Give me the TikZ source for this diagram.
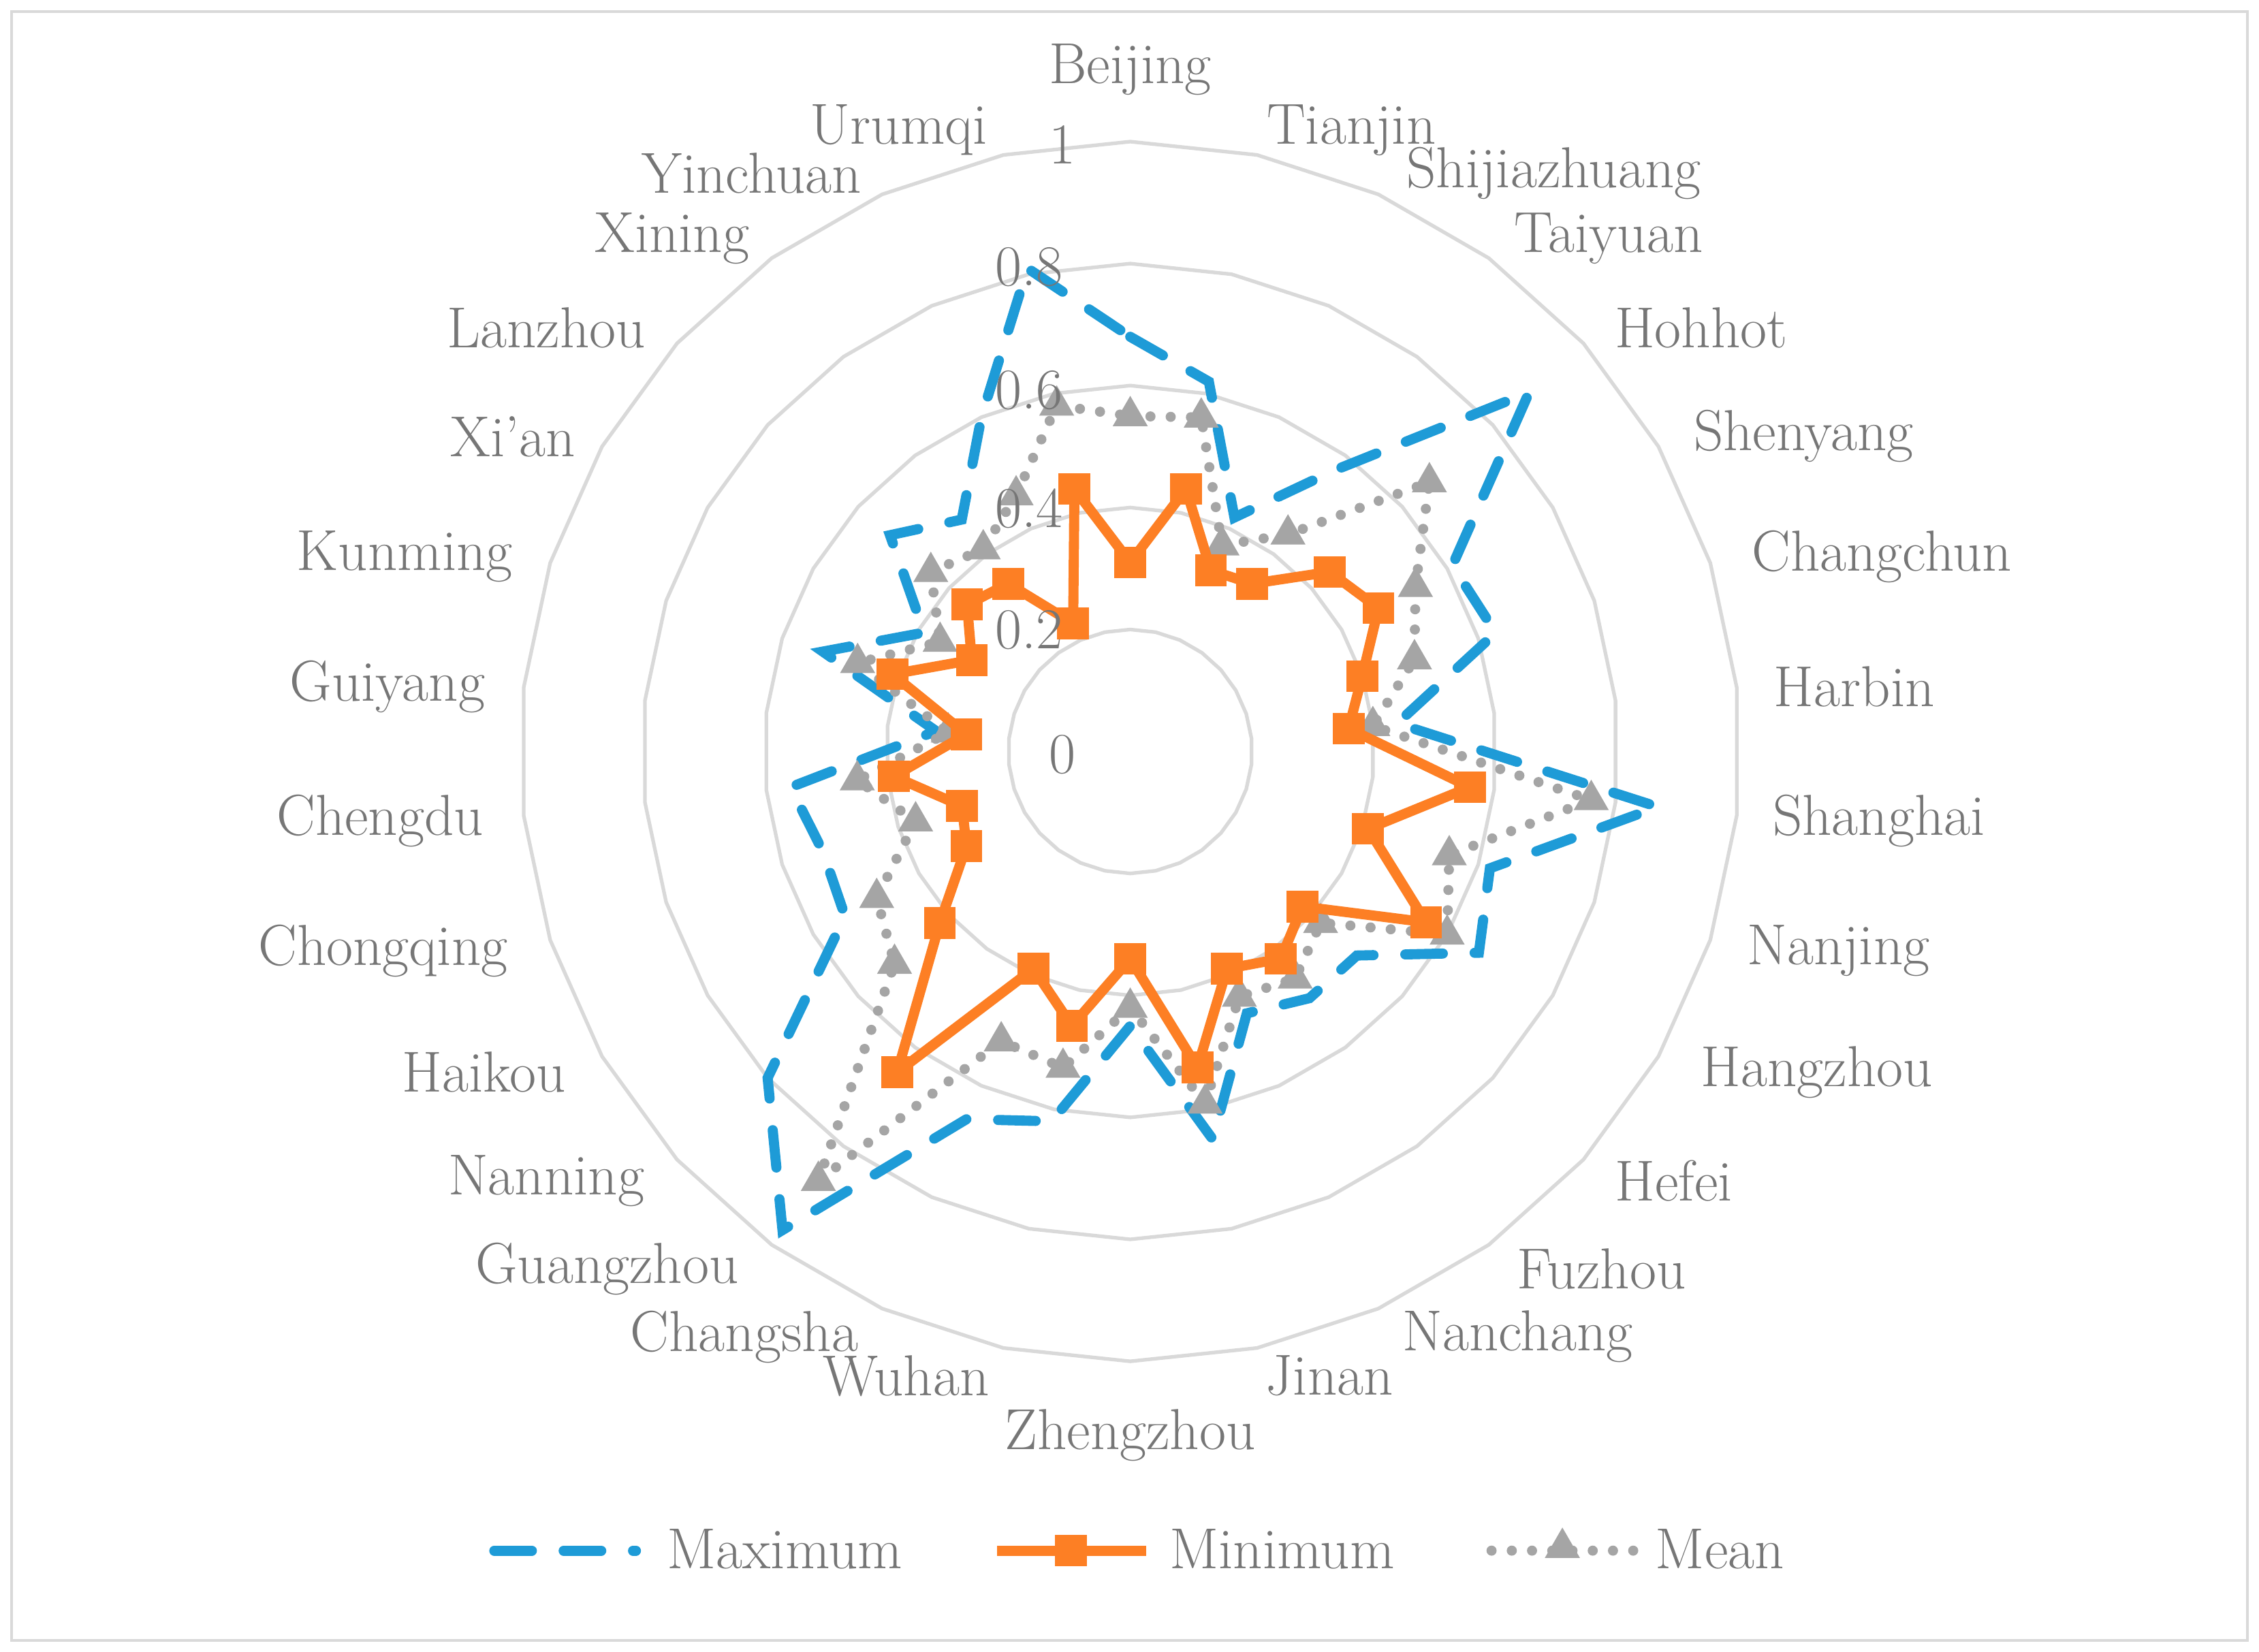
\documentclass[tikz,border=0pt]{standalone}
\usetikzlibrary{shapes.geometric}
\definecolor{cmax}{HTML}{1E9BD7}
\definecolor{cmin}{HTML}{FD7F24}
\definecolor{cmean}{HTML}{A5A5A5}
\definecolor{cgrid}{HTML}{D9D9D9}
\definecolor{ctxt}{HTML}{767676}
\tikzset{
  lbl/.style={text=ctxt,font=\fontsize{40}{44}\selectfont,inner sep=0pt},
  grid/.style={cgrid,line width=2.5pt},
  maxl/.style={cmax,line width=7pt,line cap=round,dash pattern=on 26pt off 22pt},
  minl/.style={cmin,line width=7pt,line join=round},
  meanl/.style={cmean,line width=7pt,line cap=round,dash pattern=on 0pt off 14pt},
  sq/.style={fill=cmin,minimum size=22pt,inner sep=0pt,rectangle},
  tri/.style={fill=cmean,regular polygon,regular polygon sides=3,minimum size=28pt,inner sep=0pt}
}
\begin{document}
\begin{tikzpicture}[x=1pt,y=1pt]
\useasboundingbox (0,0) rectangle (1563,-1143);
\draw[cgrid,line width=2pt] (8,-8) rectangle (1555,-1135);
\begin{scope}[shift={(782,-520)}]
\foreach \k in {1,...,5}{
  \draw[grid] (90:\k*84.4) \foreach \i in {1,...,29}{-- ({90-12*\i}:\k*84.4)} -- cycle;
}
\foreach \v [count=\i from 0] in {0.68,0.62,0.42,0.57,0.88,0.61,0.63,0.44,0.87,0.62,0.66,0.50,0.50,0.47,0.65,0.45,0.62,0.66,0.97,0.80,0.54,0.53,0.56,0.32,0.53,0.39,0.53,0.47,0.60,0.81}
  \coordinate (X\i) at ({90-12*\i}:{\v*422});
\foreach \v [count=\i from 0] in {0.31,0.44,0.325,0.34,0.44,0.47,0.40,0.36,0.56,0.41,0.56,0.38,0.42,0.39,0.53,0.34,0.46,0.39,0.65,0.42,0.31,0.29,0.39,0.27,0.41,0.30,0.36,0.34,0.23,0.44}
  \coordinate (N\i) at ({90-12*\i}:{\v*422});
\foreach \v [count=\i from 0] in {0.55,0.56,0.37,0.44,0.66,0.54,0.49,0.40,0.76,0.55,0.60,0.42,0.46,0.44,0.59,0.42,0.53,0.52,0.87,0.52,0.48,0.37,0.45,0.30,0.47,0.36,0.44,0.41,0.46,0.58}
  \coordinate (A\i) at ({90-12*\i}:{\v*422});
\draw[maxl] (X0) \foreach \i in {1,...,29}{-- (X\i)} -- cycle;
\draw[meanl] (A0) \foreach \i in {1,...,29}{-- (A\i)} -- cycle;
\foreach \i in {0,...,29} \node[tri] (ta\i) at (A\i) {};
\draw[minl] (N0) \foreach \i in {1,...,29}{-- (N\i)} -- cycle;
\foreach \i in {0,...,29} \node[sq] (sn\i) at (N\i) {};
\end{scope}
% axis values
\node[lbl] (v1) at (735,-100) {1};
\node[lbl] (v8) at (712,-185) {0.8};
\node[lbl] (v6) at (712,-270) {0.6};
\node[lbl] (v4) at (712,-352) {0.4};
\node[lbl] (v2) at (712,-436) {0.2};
\node[lbl] (v0) at (735,-522) {0};
% city labels
\node[lbl] (c0) at (782,-48) {Beijing};
\node[lbl] (c1) at (935,-90) {Tianjin};
\node[lbl] (c2) at (1075,-120) {Shijiazhuang};
\node[lbl] (c3) at (1113,-165) {Taiyuan};
\node[lbl] (c4) at (1177,-227) {Hohhot};
\node[lbl] (c5) at (1248,-302) {Shenyang};
\node[lbl] (c6) at (1302,-385) {Changchun};
\node[lbl] (c7) at (1283,-475) {Harbin};
\node[lbl] (c8) at (1300,-568) {Shanghai};
\node[lbl] (c9) at (1272,-658) {Nanjing};
\node[lbl] (c10) at (1257,-742) {Hangzhou};
\node[lbl] (c11) at (1158,-817) {Hefei};
\node[lbl] (c12) at (1108,-878) {Fuzhou};
\node[lbl] (c13) at (1050,-925) {Nanchang};
\node[lbl] (c14) at (920,-952) {Jinan};
\node[lbl] (c15) at (782,-993) {Zhengzhou};
\node[lbl] (c16) at (627,-952) {Wuhan};
\node[lbl] (c17) at (515,-925) {Changsha};
\node[lbl] (c18) at (420,-878) {Guangzhou};
\node[lbl] (c19) at (378,-817) {Nanning};
\node[lbl] (c20) at (335,-742) {Haikou};
\node[lbl] (c21) at (265,-658) {Chongqing};
\node[lbl] (c22) at (263,-568) {Chengdu};
\node[lbl] (c23) at (268,-475) {Guiyang};
\node[lbl] (c24) at (280,-385) {Kunming};
\node[lbl] (c25) at (355,-302) {Xi’an};
\node[lbl] (c26) at (378,-227) {Lanzhou};
\node[lbl] (c27) at (465,-165) {Xining};
\node[lbl] (c28) at (520,-120) {Yinchuan};
\node[lbl] (c29) at (622,-90) {Urumqi};
% legend
\coordinate (l1a) at (342,-1073); \coordinate (l1b) at (440,-1073);
\draw[maxl] (l1a) -- (l1b);
\node[lbl] (t1) at (543,-1072) {Maximum};
\coordinate (l2a) at (690,-1073); \coordinate (l2b) at (793,-1073);
\draw[minl] (l2a) -- (l2b);
\node[sq] (s2) at (741,-1073) {};
\node[lbl] (t2) at (887,-1072) {Minimum};
\coordinate (l3a) at (1032,-1073); \coordinate (l3b) at (1135,-1073);
\draw[meanl] (l3a) -- (l3b);
\node[tri] (s3) at (1081,-1071) {};
\node[lbl] (t3) at (1190,-1072) {Mean};
\end{tikzpicture}
\end{document}
